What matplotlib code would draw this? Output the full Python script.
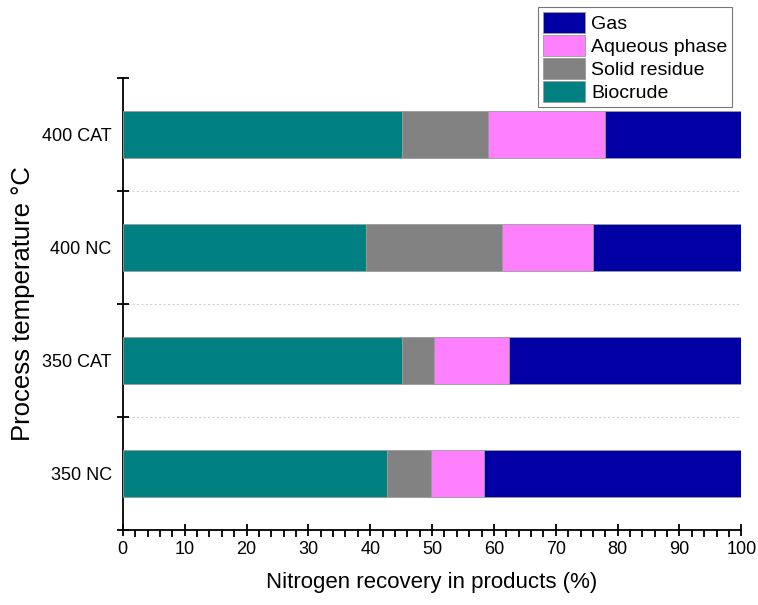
import matplotlib
matplotlib.use("Agg")
import matplotlib.pyplot as plt
from matplotlib.ticker import MultipleLocator
import numpy as np

plt.rcParams["font.family"] = ["Liberation Sans", "DejaVu Sans"]

categories = ["350 NC", "350 CAT", "400 NC", "400 CAT"]
biocrude = [42.7, 45.1, 39.3, 45.1]
solid_residue = [7.2, 5.2, 22.0, 13.9]
aqueous_phase = [8.5, 12.1, 14.8, 19.0]
gas = [41.6, 37.6, 23.9, 22.0]

series = [
    ("Biocrude", biocrude, "#008080"),
    ("Solid residue", solid_residue, "#828282"),
    ("Aqueous phase", aqueous_phase, "#ff80ff"),
    ("Gas", gas, "#0000a5"),
]

fig = plt.figure(figsize=(7.58, 6.05), dpi=100)
ax = fig.add_axes([0.162, 0.124, 0.816, 0.747])

y = np.arange(len(categories))
left = np.zeros(len(categories))
handles = []
for name, values, color in series:
    bars = ax.barh(y, values, left=left, height=0.41, color=color,
                   edgecolor="#9a9a9a", linewidth=0.6, label=name, zorder=3)
    handles.append(bars)
    left += np.array(values)

for b in y[:-1] + 0.5:
    ax.axhline(b, color="#d0d0d0", linestyle=(0, (2, 2)), linewidth=0.8, zorder=1)

ax.set_xlim(0, 100)
ax.set_ylim(-0.5, len(categories) - 0.5)
ax.xaxis.set_major_locator(MultipleLocator(10))
ax.xaxis.set_minor_locator(MultipleLocator(2))
ax.set_yticks(y, categories)
ax.set_yticks(np.arange(-0.5, len(categories)), minor=True)
ax.tick_params(axis="y", which="major", length=0, pad=8, labelsize=13)
ax.tick_params(axis="y", which="minor", direction="inout", length=9, width=1.3)
ax.tick_params(axis="x", which="major", direction="inout", length=9, width=1.3, labelsize=13)
ax.tick_params(axis="x", which="minor", direction="out", length=5, width=1.3)

for side in ("top", "right"):
    ax.spines[side].set_visible(False)
for side in ("left", "bottom"):
    ax.spines[side].set_linewidth(1.3)

ax.set_xlabel("Nitrogen recovery in products (%)", fontsize=16, labelpad=10)
ax.set_ylabel("Process temperature °C", fontsize=18.5, labelpad=5)

leg = fig.legend(handles[::-1], [s[0] for s in series][::-1],
                 loc="upper right", bbox_to_anchor=(0.966, 0.989),
                 fontsize=14, fancybox=False, edgecolor="#555555",
                 handlelength=2.2, handleheight=1.3, handletextpad=0.3,
                 labelspacing=0.1, borderpad=0.25, borderaxespad=0.0)
leg.get_frame().set_linewidth(0.8)

fig.savefig("out.png", dpi=100)
